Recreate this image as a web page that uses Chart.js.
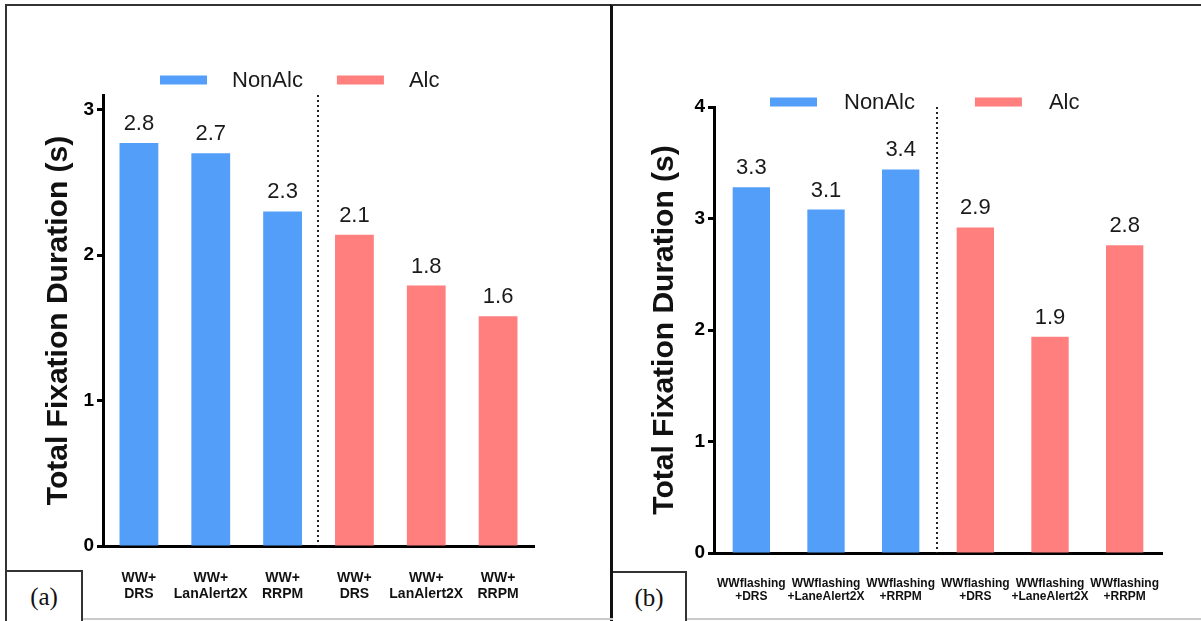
<!DOCTYPE html>
<html lang="en">
<head>
<meta charset="UTF-8">
<title>Total Fixation Duration - NonAlc vs Alc</title>
<style>
  body { margin: 0; background: #fff; width: 1201px; height: 621px; position: relative; overflow: hidden; }
  .panel { position: absolute; top: 4px; height: 617px; box-sizing: border-box; border-top: 2px solid #333; }
  #pa { left: 5px; width: 605px; border-left: 2px solid #333; }
  #pb { left: 610px; width: 591px; border-left: 3px solid #111; }
  .base { position: absolute; left: 7px; right: 0; top: 618px; height: 2px; background: #cacaca; }
  .wrap { position: absolute; top: 6px; height: 612px; }
  #wa { left: 8px; width: 600px; }
  #wb { left: 614px; width: 587px; }
  .tag { position: absolute; height: 51px; background: #fff; box-sizing: border-box;
         border-top: 2px solid #333; border-right: 2px solid #333; color: #111;
         font-family: "Liberation Serif", "Times New Roman", serif; font-size: 25px;
         display: flex; align-items: center; justify-content: center; }
  #ta { left: 7px; top: 570px; width: 76px; }
  #tb { left: 613px; top: 571px; width: 74px; }
</style>
</head>
<body>
  <div class="panel" id="pa"></div>
  <div class="panel" id="pb"></div>
  <div class="base"></div>
  <div class="wrap" id="wa"><canvas id="chartA"></canvas></div>
  <div class="wrap" id="wb"><canvas id="chartB"></canvas></div>
  <div class="tag" id="ta">(a)</div>
  <div class="tag" id="tb">(b)</div>

<script src="https://cdn.jsdelivr.net/npm/chart.js"></script>
<script>
  // data
  const seriesNames = ['NonAlc', 'Alc'];
  const seriesColors = ['#539ef8', '#ff7f7f'];

  // panel (a)
  const categoriesA = [['WW+', 'DRS'], ['WW+', 'LanAlert2X'], ['WW+', 'RRPM'],
                       ['WW+', 'DRS'], ['WW+', 'LanAlert2X'], ['WW+', 'RRPM']];
  const nonAlcA = [2.77, 2.70, 2.30];
  const alcA = [2.14, 1.79, 1.58];
  const yTicksA = [0, 1, 2, 3];

  // panel (b)
  const categoriesB = [['WWflashing', '+DRS'], ['WWflashing', '+LaneAlert2X'], ['WWflashing', '+RRPM'],
                       ['WWflashing', '+DRS'], ['WWflashing', '+LaneAlert2X'], ['WWflashing', '+RRPM']];
  const nonAlcB = [3.28, 3.08, 3.44];
  const alcB = [2.92, 1.94, 2.76];
  const yTicksB = [0, 1, 2, 3, 4];

  const yTitle = 'Total Fixation Duration (s)';
  const sans = '"Liberation Sans", Arial, Helvetica, sans-serif';

  Chart.defaults.font.family = sans;
  Chart.defaults.color = '#111';

  // numbers above the bars
  const valueLabels = {
    id: 'valueLabels',
    afterDatasetsDraw(chart) {
      const ctx = chart.ctx;
      ctx.save();
      ctx.font = '22px ' + sans;
      ctx.fillStyle = '#1a1a1a';
      ctx.textAlign = 'center';
      ctx.textBaseline = 'alphabetic';
      chart.data.datasets.forEach(function (ds, i) {
        chart.getDatasetMeta(i).data.forEach(function (bar, j) {
          const v = ds.data[j];
          if (v == null) return;
          ctx.fillText(v.toFixed(1), bar.x, bar.y - 13);
        });
      });
      ctx.restore();
    }
  };

  // dotted line between the two groups
  const groupSeparator = {
    id: 'groupSeparator',
    beforeDatasetsDraw(chart, args, opts) {
      const xs = chart.scales.x, ys = chart.scales.y;
      const px = Math.round((xs.getPixelForValue(opts.after) + xs.getPixelForValue(opts.after + 1)) / 2) - 1;
      const ctx = chart.ctx;
      ctx.save();
      ctx.strokeStyle = '#222';
      ctx.lineWidth = 2;
      ctx.setLineDash([2, 3]);
      ctx.beginPath();
      ctx.moveTo(px, ys.top);
      ctx.lineTo(px, ys.bottom);
      ctx.stroke();
      ctx.restore();
    }
  };

  // legend with long flat keys, as in the figure
  const keyLegend = {
    id: 'keyLegend',
    afterDraw(chart, args, opts) {
      const ctx = chart.ctx;
      ctx.save();
      ctx.font = '22px ' + sans;
      ctx.textBaseline = 'middle';
      let x = opts.x;
      chart.data.datasets.forEach(function (ds) {
        ctx.fillStyle = ds.backgroundColor;
        ctx.fillRect(x, opts.y - 4.5, 47, 9);
        x += 47 + opts.textGap;
        ctx.fillStyle = '#1a1a1a';
        ctx.fillText(ds.label, x, opts.y + 1);
        x += ctx.measureText(ds.label).width + opts.itemGap;
      });
      ctx.restore();
    }
  };

  function makeChart(id, p) {
    const empty = [null, null, null];
    const ctx = document.getElementById(id).getContext('2d');
    return new Chart(ctx, {
      type: 'bar',
      data: {
        labels: p.categories,
        datasets: [
          { label: seriesNames[0], data: p.nonAlc.concat(empty), backgroundColor: seriesColors[0] },
          { label: seriesNames[1], data: empty.concat(p.alc), backgroundColor: seriesColors[1] }
        ]
      },
      options: {
        responsive: true,
        maintainAspectRatio: false,
        animation: false,
        events: [],
        layout: { padding: p.padding },
        datasets: {
          bar: { skipNull: true, categoryPercentage: 1, barPercentage: p.barPct }
        },
        plugins: {
          legend: { display: false },
          tooltip: { enabled: false },
          keyLegend: p.legend,
          groupSeparator: { after: 2 }
        },
        scales: {
          x: {
            grid: { display: false, drawTicks: false },
            border: { display: true, color: '#000', width: 3 },
            ticks: {
              color: '#111', padding: p.xPad, maxRotation: 0, autoSkip: false,
              font: { size: p.xFont, weight: 'bold', lineHeight: p.xLine }
            },
            afterFit: function (s) { s.height = p.xHeight; }
          },
          y: {
            min: 0,
            max: p.yMax,
            grid: {
              display: true, drawOnChartArea: false, drawTicks: true,
              tickLength: 6, tickWidth: 3, tickColor: '#000', color: '#000'
            },
            border: { display: true, color: '#000', width: 3 },
            ticks: { color: '#000', padding: 3, font: { size: 19, weight: 'bold' } },
            afterBuildTicks: function (s) { s.ticks = p.yTicks.map(function (v) { return { value: v }; }); },
            afterFit: function (s) { s.width = p.yWidth; },
            title: {
              display: true, text: yTitle, color: '#111',
              font: { size: 30, weight: 'bold', lineHeight: 1 },
              padding: { top: 36, bottom: 0 }
            }
          }
        }
      },
      plugins: [groupSeparator, valueLabels, keyLegend]
    });
  }

  makeChart('chartA', {
    categories: categoriesA, nonAlc: nonAlcA, alc: alcA, yTicks: yTicksA,
    yMax: 3.1, barPct: 0.54,
    padding: { top: 89, right: 74, bottom: 0, left: 0 },
    yWidth: 95, xHeight: 72, xFont: 14, xLine: 1.15, xPad: 24,
    legend: { x: 152, y: 74, textGap: 25, itemGap: 34 }
  });

  makeChart('chartB', {
    categories: categoriesB, nonAlc: nonAlcB, alc: alcB, yTicks: yTicksB,
    yMax: 4, barPct: 0.5,
    padding: { top: 101, right: 39, bottom: 0, left: 0 },
    yWidth: 100, xHeight: 65, xFont: 12, xLine: 1.1, xPad: 24,
    legend: { x: 156, y: 96, textGap: 27, itemGap: 60 }
  });
</script>
</body>
</html>
